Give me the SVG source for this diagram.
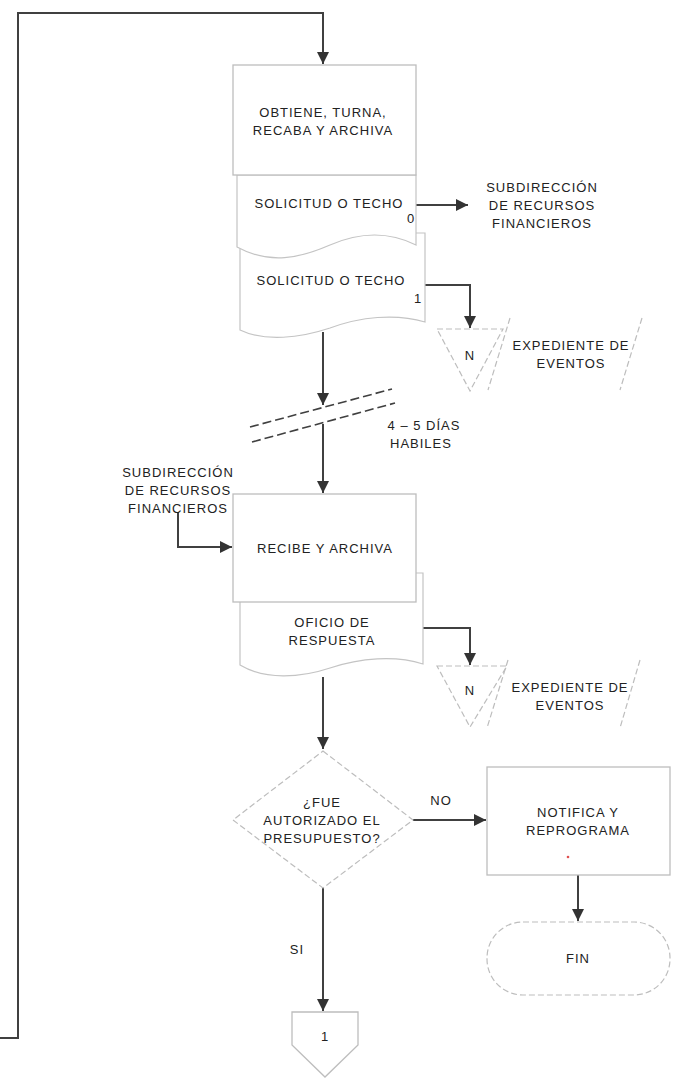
<svg xmlns="http://www.w3.org/2000/svg" width="677" height="1078" viewBox="0 0 677 1078">
<style>
  .t { font-family: "Liberation Sans", Arial, sans-serif; font-size: 13px; letter-spacing: 1px; fill: #222; text-anchor: middle; }
  .box { fill: #fff; stroke: #bdbdbd; stroke-width: 1.3; }
  .doc { fill: #fff; stroke: #c4c4c4; stroke-width: 1.2; }
  .dash { fill: none; stroke: #bdbdbd; stroke-width: 1.2; stroke-dasharray: 6 3; }
  .conn { fill: none; stroke: #404040; stroke-width: 2; }
  .brk { fill: none; stroke: #404040; stroke-width: 1.6; stroke-dasharray: 9 4; }
</style>
<defs>
  <marker id="arr" viewBox="0 0 10 10" refX="10" refY="5" markerWidth="13" markerHeight="12" markerUnits="userSpaceOnUse" orient="auto">
    <path d="M0,0 L10,5 L0,10 Z" fill="#333"/>
  </marker>
</defs>
<rect width="677" height="1078" fill="#fff"/>

<g id="connectors">
  <path class="conn" d="M0,1038 H18 V13 H323 V64" marker-end="url(#arr)"/>
  <path class="conn" d="M416,205 H468" marker-end="url(#arr)"/>
  <path class="conn" d="M425,285 H470 V328" marker-end="url(#arr)"/>
  <path class="conn" d="M323,332 V405" marker-end="url(#arr)"/>
  <path class="conn" d="M323,424 V493" marker-end="url(#arr)"/>
  <path class="conn" d="M178,512 V547 H232" marker-end="url(#arr)"/>
  <path class="conn" d="M423,628 H470 V665" marker-end="url(#arr)"/>
  <path class="conn" d="M323,677 V749" marker-end="url(#arr)"/>
  <path class="conn" d="M413,820 H486" marker-end="url(#arr)"/>
  <path class="conn" d="M578,875 V921" marker-end="url(#arr)"/>
  <path class="conn" d="M323,888 V1011" marker-end="url(#arr)"/>
  <path class="brk" d="M250,427 L392,389"/>
  <path class="brk" d="M252,442 L395,403"/>
  <text class="t" x="424" y="430">4 – 5 DÍAS</text>
  <text class="t" x="421" y="448">HABILES</text>
  <text class="t" x="441" y="805">NO</text>
  <text class="t" x="297" y="954">SI</text>
</g>

<g id="doc-solicitud-1">
  <path class="doc" d="M240,233 H425 V322 C395,313 360,317 330,328 C300,338 265,342 240,330 Z"/>
  <text class="t" x="331" y="285">SOLICITUD O TECHO</text>
  <text class="t" x="418" y="303">1</text>
</g>
<g id="doc-solicitud-0">
  <path class="doc" d="M237,175 H416 V245 C390,232 360,232 330,245 C300,258 270,265 237,247 Z"/>
  <text class="t" x="329" y="208">SOLICITUD O TECHO</text>
  <text class="t" x="411" y="223">0</text>
</g>
<g id="obtiene">
  <rect class="box" x="233" y="65" width="183" height="110"/>
  <text class="t" x="323" y="117">OBTIENE, TURNA,</text>
  <text class="t" x="323" y="135">RECABA Y ARCHIVA</text>
</g>
<g id="subdireccion-1">
  <text class="t" x="542" y="192">SUBDIRECCIÓN</text>
  <text class="t" x="542" y="210">DE RECURSOS</text>
  <text class="t" x="542" y="228">FINANCIEROS</text>
</g>
<g id="expediente-1">
  <path class="dash" d="M437,329 H503 L470,391 Z"/>
  <text class="t" x="470" y="360">N</text>
  <path class="dash" d="M510,318 L488,390"/>
  <path class="dash" d="M642,318 L620,390"/>
  <text class="t" x="571" y="350">EXPEDIENTE DE</text>
  <text class="t" x="571" y="368">EVENTOS</text>
</g>
<g id="subdireccion-2">
  <text class="t" x="178" y="477">SUBDIRECCIÓN</text>
  <text class="t" x="178" y="495">DE RECURSOS</text>
  <text class="t" x="178" y="513">FINANCIEROS</text>
</g>
<g id="doc-oficio">
  <path class="doc" d="M240,573 H423 V664 C395,655 360,658 330,668 C300,678 265,680 240,665 Z"/>
  <text class="t" x="332" y="627">OFICIO DE</text>
  <text class="t" x="332" y="645">RESPUESTA</text>
</g>
<g id="recibe">
  <rect class="box" x="233" y="494" width="183" height="108"/>
  <text class="t" x="325" y="553">RECIBE Y ARCHIVA</text>
</g>
<g id="expediente-2">
  <path class="dash" d="M437,666 H507 L470,727 Z"/>
  <text class="t" x="470" y="695">N</text>
  <path class="dash" d="M508,660 L487,728"/>
  <path class="dash" d="M640,660 L620,728"/>
  <text class="t" x="570" y="692">EXPEDIENTE DE</text>
  <text class="t" x="570" y="710">EVENTOS</text>
</g>
<g id="decision">
  <path class="dash" d="M323,751 L413,820 L323,888 L233,820 Z"/>
  <text class="t" x="322" y="807">¿FUE</text>
  <text class="t" x="322" y="825">AUTORIZADO EL</text>
  <text class="t" x="322" y="843">PRESUPUESTO?</text>
</g>
<g id="notifica">
  <rect class="box" x="487" y="767" width="183" height="108"/>
  <text class="t" x="578" y="817">NOTIFICA Y</text>
  <text class="t" x="578" y="835">REPROGRAMA</text>
  <circle cx="568" cy="857" r="1.3" fill="#e05050"/>
</g>
<g id="fin">
  <rect class="dash" x="487" y="922" width="183" height="73" rx="36" ry="36"/>
  <text class="t" x="578" y="963">FIN</text>
</g>
<g id="conector-1">
  <path class="box" d="M292,1012 H358 V1045 L325,1077 L292,1045 Z"/>
  <text class="t" x="325" y="1041">1</text>
</g>
</svg>
